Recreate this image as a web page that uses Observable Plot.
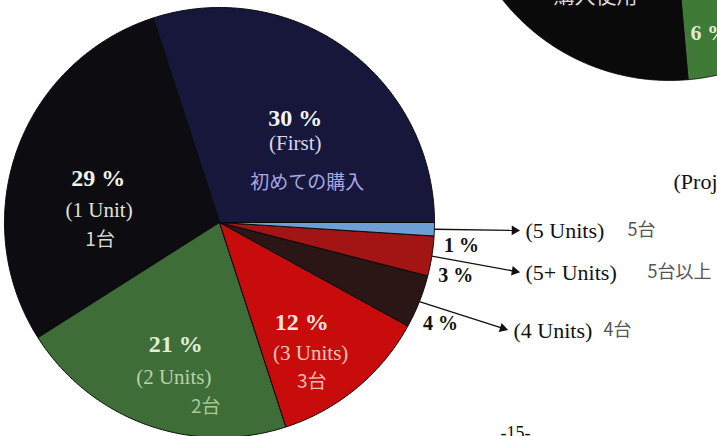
<!DOCTYPE html>
<html><head><meta charset="utf-8">
<script src="https://cdn.jsdelivr.net/npm/d3@7"></script>
<script src="https://cdn.jsdelivr.net/npm/@observablehq/plot@0.6"></script>
<style>html,body{margin:0;padding:0;background:#fff}#chart svg{display:block}</style>
</head><body><div id="chart"></div>
<script>
// ---- data ----
const categories = ["First", "1 Unit", "2 Units", "3 Units", "4 Units", "5+ Units", "5 Units"];
const shares = [30, 29, 21, 12, 4, 3, 1];
const percentLabels = ["30 %", "29 %", "21 %", "12 %", "4 %", "3 %", "1 %"];
const englishLabels = ["(First)", "(1 Unit)", "(2 Units)", "(3 Units)", "(4 Units)", "(5+ Units)", "(5 Units)"];
const japaneseLabels = ["初めての購入", "1台", "2台", "3台", "4台", "5台以上", "5台"];
// partially visible second pie at the top right (mostly off the page; black share estimated)
const pie2Categories = ["6 %", "購入使用"];
const pie2Shares = [6, 94];
const otherTexts = ["(Proj", "-15-"];

// ---- styles / layout ----
const sliceColors = ["#16173b", "#0c0c11", "#3f6d38", "#c80c0c", "#2b1616", "#a31414", "#6d9fd4"];
const pctColors = ["#f4f4fa", "#f2f2e6", "#e2eed8", "#fbe6de"];
const engColors = ["#d6d6ee", "#e2e2da", "#b6d3aa", "#f4c6bd"];
const jpColors = ["#a9a6e2", "#d9d9d0", "#a6cb96", "#f0bcae"];
const pie2Colors = ["#3f7a36", "#0a0a0a"];

const W = 717, H = 436;
const R = 215, CX = 219, CY = 222;           // main pie placement (px)
const toX = px => (px - CX) / R, toY = py => (CY - py) / R;
const P2 = {cx: toX(669), cy: toY(-133), r: 213 / R, start: 275};

// inner label line offsets (px) from the percent line
const innerOffsets = [
  {eng: [0, 25], jp: [12, 65]},
  {eng: [1, 31], jp: [2, 61]},
  {eng: [-2, 33], jp: [30, 63]},
  {eng: [9, 31], jp: [10, 60]}
];
// callouts for small slices: arrow tip (px), japanese x offset from tip, percent offset from arc point
const callouts = {
  4: {tip: [509, 330], jp: 94, pct: [21, 22]},
  5: {tip: [521, 272], jp: 126, pct: [24, 19]},
  6: {tip: [521, 230], jp: 106, pct: [27, 16]}
};

function pieShapes(values, colors, keys, cx, cy, r, startDeg, id) {
  const total = d3.sum(values);
  let a = startDeg;
  const pts = [], arcs = [];
  values.forEach((v, i) => {
    const span = v / total * 360, a0 = a, a1 = a + span;
    const key = id + ":" + keys[i];
    pts.push({key, color: colors[i], x: cx, y: cy});
    const n = Math.max(2, Math.ceil(span / 0.5));
    for (let k = 0; k <= n; k++) {
      const t = (a0 + span * k / n) * Math.PI / 180;
      pts.push({key, color: colors[i], x: cx + r * Math.cos(t), y: cy + r * Math.sin(t)});
    }
    pts.push({key, color: colors[i], x: cx, y: cy});
    arcs.push({i, a0, a1, mid: (a0 + a1) / 2});
    a = a1;
  });
  return {pts, arcs};
}

const main = pieShapes(shares, sliceColors, categories, 0, 0, 1, 0, "main");
const second = pieShapes(pie2Shares, pie2Colors, pie2Categories, P2.cx, P2.cy, P2.r, P2.start, "p2");

const rad = d => d * Math.PI / 180;
const pctRows = [], engRows = [], jpRows = [];
main.arcs.slice(0, 4).forEach(({i, mid}) => {
  const x0 = 0.6 * Math.cos(rad(mid)), y0 = 0.6 * Math.sin(rad(mid));
  const o = innerOffsets[i];
  pctRows.push({x: x0, y: y0, t: percentLabels[i], c: pctColors[i]});
  engRows.push({x: x0 + o.eng[0] / R, y: y0 - o.eng[1] / R, t: englishLabels[i], c: engColors[i]});
  jpRows.push({x: x0 + o.jp[0] / R, y: y0 - o.jp[1] / R, t: japaneseLabels[i], c: jpColors[i]});
});

const links = [], heads = [], outPct = [], outEng = [], outJp = [];
main.arcs.slice(4).forEach(({i, mid}) => {
  const c = callouts[i];
  const sx = Math.cos(rad(mid)), sy = Math.sin(rad(mid));
  const tx = toX(c.tip[0]), ty = toY(c.tip[1]);
  const dxp = (tx - sx) * R, dyp = -(ty - sy) * R;  // screen direction
  const len = Math.hypot(dxp, dyp), ux = dxp / len, uy = dyp / len;
  links.push({x1: sx, y1: sy, x2: tx - ux * 6 / R, y2: ty + uy * 6 / R});
  heads.push({x: tx - ux * 7 / R, y: ty + uy * 7 / R, rot: Math.atan2(ux, -uy) * 180 / Math.PI});
  outEng.push({x: tx + 4 / R, y: ty, t: englishLabels[i]});
  outJp.push({x: tx + c.jp / R, y: ty, t: japaneseLabels[i]});
  outPct.push({x: sx + c.pct[0] / R, y: sy - c.pct[1] / R, t: percentLabels[i]});
});

const p2Text = [{x: toX(595), y: toY(-4), t: pie2Categories[1]}];
const p2Pct = [{x: toX(690), y: toY(32), t: pie2Categories[0]}];

const serif = "Liberation Serif, Times New Roman, serif";
const cjk = "Noto Sans CJK JP, sans-serif";

const chart = Plot.plot({
  width: W, height: H,
  marginTop: 0, marginRight: 0, marginBottom: 0, marginLeft: 0,
  x: {domain: [toX(0), toX(W)], range: [0, W], axis: null},
  y: {domain: [toY(H), toY(0)], range: [H, 0], axis: null},
  marks: [
    Plot.line(second.pts, {x: "x", y: "y", z: "key", fill: "color", stroke: "#080808", strokeWidth: 0.8, clip: true}),
    Plot.text(p2Text, {x: "x", y: "y", text: "t", fill: "#d8d8d8", fontSize: 21, fontFamily: cjk, clip: true}),
    Plot.text(p2Pct, {x: "x", y: "y", text: "t", fill: "#dfead2", fontSize: 22, fontWeight: "bold", fontFamily: serif, textAnchor: "start", clip: true}),
    Plot.line(main.pts, {x: "x", y: "y", z: "key", fill: "color", stroke: "#0a0a0a", strokeWidth: 1, clip: true}),
    Plot.text(pctRows, {x: "x", y: "y", text: "t", fill: "c", fontSize: 24, fontWeight: "bold", fontFamily: serif}),
    Plot.text(engRows, {x: "x", y: "y", text: "t", fill: "c", fontSize: 21, fontFamily: serif}),
    Plot.text(jpRows, {x: "x", y: "y", text: "t", fill: "c", fontSize: 19, fontFamily: cjk}),
    Plot.link(links, {x1: "x1", y1: "y1", x2: "x2", y2: "y2", stroke: "#111", strokeWidth: 1.3}),
    Plot.dot(heads, {x: "x", y: "y", symbol: "triangle2", r: 4.6, rotate: "rot", fill: "#111", stroke: null}),
    Plot.text(outPct, {x: "x", y: "y", text: "t", fill: "#111", fontSize: 20, fontWeight: "bold", fontFamily: serif}),
    Plot.text(outEng, {x: "x", y: "y", text: "t", fill: "#111", fontSize: 22, fontFamily: serif, textAnchor: "start"}),
    Plot.text(outJp, {x: "x", y: "y", text: "t", fill: "#555", fontSize: 18, fontFamily: cjk, textAnchor: "start", clip: true}),
    Plot.text([otherTexts[0]], {x: () => toX(673), y: () => toY(181), text: d => d, fill: "#111", fontSize: 22, fontFamily: serif, textAnchor: "start", clip: true}),
    Plot.text([otherTexts[1]], {x: () => toX(515), y: () => toY(433), text: d => d, fill: "#111", fontSize: 18, fontFamily: serif, clip: true})
  ]
});
document.getElementById("chart").appendChild(chart);
</script>
</body></html>
